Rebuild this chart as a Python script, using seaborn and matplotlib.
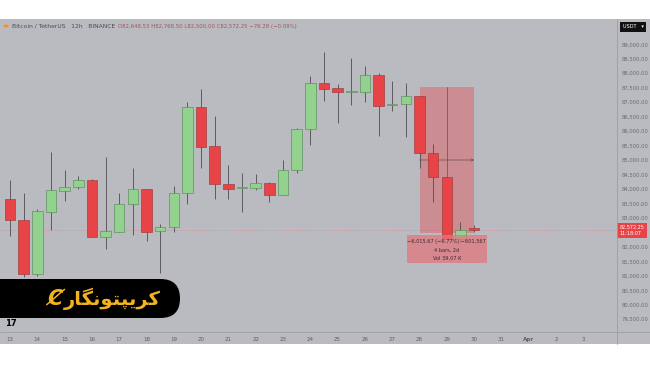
import numpy as np
import pandas as pd
import seaborn as sns
import matplotlib.pyplot as plt
from matplotlib.patches import Rectangle, FancyBboxPatch, Circle

# BTC/USDT 12h candles, Mar 13 00:00 -> Mar 30 00:00
opens = [83645, 82940, 81064, 83216, 83942, 84059, 84312, 82353, 82515, 83472,
         83990, 82539, 82677, 83852, 86823, 85486, 84184, 84035, 84046, 84198,
         83804, 84647, 86063, 87663, 87480, 87362, 87362, 87939, 86903, 86927,
         87214, 85234, 84405, 82263, 82648.53]
highs = [84312, 83873, 83320, 85289, 84657, 84450, 84346, 85096, 83852, 84737,
         84000, 82791, 84104, 86996, 87445, 86523, 84819, 84543, 84508, 84253,
         85003, 86098, 87905, 88734, 87628, 88516, 88261, 87998, 87732, 87673,
         87230, 85555, 84415, 82871, 82768.50]
lows = [82387, 80971, 80995, 82584, 83596, 83990, 82325, 81938, 82498, 82411,
        82214, 81088, 82515, 83482, 84737, 83645, 83665, 83206, 83966, 83562,
        83783, 84543, 85510, 87051, 86291, 86903, 86996, 85842, 86706, 85808,
        84737, 83562, 82240, 82150, 82500.00]
closes = [82930, 81064, 83230, 83956, 84070, 84312, 82353, 82550, 83482, 83990,
          82525, 82677, 83852, 86823, 85462, 84184, 84011, 84060, 84198, 83804,
          84647, 86063, 87663, 87466, 87342, 87369, 87939, 86879, 86913, 87214,
          85234, 84405, 82263, 82584, 82572.25]

day_labels = ['13', '14', '15', '16', '17', '18', '19', '20', '21', '22', '23',
              '24', '25', '26', '27', '28', '29', '30', '31', 'Apr', '2', '3']
price_ticks = np.arange(79500, 89001, 500)

# measure tool drawn over the last candles
measure_start, measure_end = 30, 34
measure_top, measure_bottom = 87514, 82491
measure_text = ['\u22126,015.67 (\u22126.77%) \u2212601,567', '4 bars, 2d', 'Vol 39.07 K']

header_left = 'Bitcoin / TetherUS   12h   BINANCE'
header_right = 'O82,648.53 H82,768.50 L82,500.00 C82,572.25 \u221276.28 (\u22120.09%)'
brand = '\uFEAD\uFE8E\uFB95\uFEE7\uFEEE\uFE98\uFB59\uFBFE\uFEAE\uFB90'  # کریپتونگار

df = pd.DataFrame({'open': opens, 'high': highs, 'low': lows, 'close': closes})
df['x'] = np.arange(len(df)) * 0.5
df['up'] = df['close'] >= df['open']

sns.set_style('white')
plt.rcParams['font.family'] = ['DejaVu Sans']

W, H = 650, 365
bg = '#babbc1'
green, red = '#92d18e', '#e84347'

fig = plt.figure(figsize=(6.5, 3.65), dpi=100)
fig.patches.append(Rectangle((0, 21 / H), 1, 325 / H, transform=fig.transFigure,
                             facecolor=bg, edgecolor='none', zorder=-10))

ax = fig.add_axes([0, (H - 332) / H, 617 / W, 313 / H])
ax.set_facecolor('none')

ax.vlines(df['x'], df['low'], df['high'], color='#4d4d50', lw=0.6, zorder=2)
body = (df['close'] - df['open']).where((df['close'] - df['open']).abs() > 40, 40)
ax.bar(df['x'], body, bottom=df['open'], width=0.385,
       color=np.where(df['up'], green, red),
       edgecolor=np.where(df['up'], '#5b8a5a', '#9a3a3c'), lw=0.45, zorder=3)

# last price line
ax.axhline(closes[-1], color=red, lw=0.5, ls=(0, (1, 2)), alpha=0.5, zorder=1)

# measure box
x0, x1 = df['x'][measure_start], df['x'][measure_end]
xm, ym = (x0 + x1) / 2, (measure_top + measure_bottom) / 2
ax.add_patch(Rectangle((x0, measure_bottom), x1 - x0, measure_top - measure_bottom,
                       facecolor=red, alpha=0.38, edgecolor='none', zorder=1))
ax.plot([xm, xm], [measure_bottom, measure_top], color='#6a4a50', lw=0.5, zorder=2)
ax.annotate('', xy=(x1, ym), xytext=(x0, ym),
            arrowprops=dict(arrowstyle='->', lw=0.5, color='#6a4a50',
                            shrinkA=0, shrinkB=0, mutation_scale=4), zorder=2)
ax.add_patch(Rectangle((xm - 1.47, 81444), 2.94, 967, facecolor='#e0787e',
                       alpha=0.75, edgecolor='none', zorder=4))
for i, t in enumerate(measure_text):
    ax.text(xm, 82170 - i * 277, t, ha='center', va='center', fontsize=3.6,
            color='#3a2a2e', zorder=5)

ax.set_xlim(-10 / 27.3, 607 / 27.3)
ax.set_ylim(79060, 89874)
ax.set_xticks(range(len(day_labels)))
ax.set_xticklabels(day_labels, fontsize=4, color='#5e5e63')
for lab in ax.get_xticklabels():
    if lab.get_text() == 'Apr':
        lab.set_fontweight('bold')
ax.yaxis.tick_right()
ax.set_yticks(price_ticks)
# the 82,500 label sits under the last-price tag
ax.set_yticklabels(['' if p == 82500 else f'{p:,.2f}' for p in price_ticks],
                   fontsize=3.8, color='#6a6a70')
ax.tick_params(axis='both', length=0)
ax.tick_params(axis='x', pad=3.3)
ax.tick_params(axis='y', pad=3.5)
for s in ax.spines.values():
    s.set_visible(False)

# pane separators
fig.add_artist(plt.Line2D([617 / W, 617 / W], [21 / H, 346 / H], color='#9d9ea4', lw=0.6))
fig.add_artist(plt.Line2D([0, 1], [33 / H, 33 / H], color='#9d9ea4', lw=0.6))

# last price label
trans = ax.get_yaxis_transform()
ax.text(1.004, closes[-1], f'{closes[-1]:,.2f}\n11:18:07', transform=trans,
        ha='left', va='center', fontsize=3.5, color='white', linespacing=1.1,
        bbox=dict(boxstyle='square,pad=0.45', facecolor=red, edgecolor='none'),
        zorder=6, clip_on=False)

# header
fig.patches.append(Circle((6 / W, 1 - 26 / H), 2.6 / W, transform=fig.transFigure,
                          facecolor='#f7931a', edgecolor='none'))
fig.text(12 / W, 1 - 26.5 / H, header_left, fontsize=4.3, color='#4a4a50', va='center')
fig.text(118 / W, 1 - 26.5 / H, header_right, fontsize=3.9, color='#a0565a', va='center')
fig.text(633 / W, 1 - 26.5 / H, 'USDT   \u25be', fontsize=3.6, color='white',
         ha='center', va='center',
         bbox=dict(boxstyle='square,pad=0.5', facecolor='#111111', edgecolor='none'))

# brand logo
axl = fig.add_axes([0, (H - 318) / H, 180 / W, 39 / H])
axl.set_xlim(0, 180)
axl.set_ylim(0, 39)
axl.axis('off')
axl.add_patch(FancyBboxPatch((-40, 0), 220, 39, boxstyle='round,pad=0,rounding_size=19.5',
                             facecolor='black', edgecolor='none'))
axl.text(112, 19, brand, ha='center', va='center', fontsize=14, fontweight='bold',
         color='#f2b320')
axl.text(55, 19, '\u023b', ha='center', va='center', fontsize=15, fontweight='bold',
         fontstyle='italic', color='#f2b320')

fig.text(5 / W, 1 - 324 / H, '17', fontsize=6, fontweight='bold', color='black',
         va='center')

fig.savefig('out.png', dpi=100, facecolor='white')
